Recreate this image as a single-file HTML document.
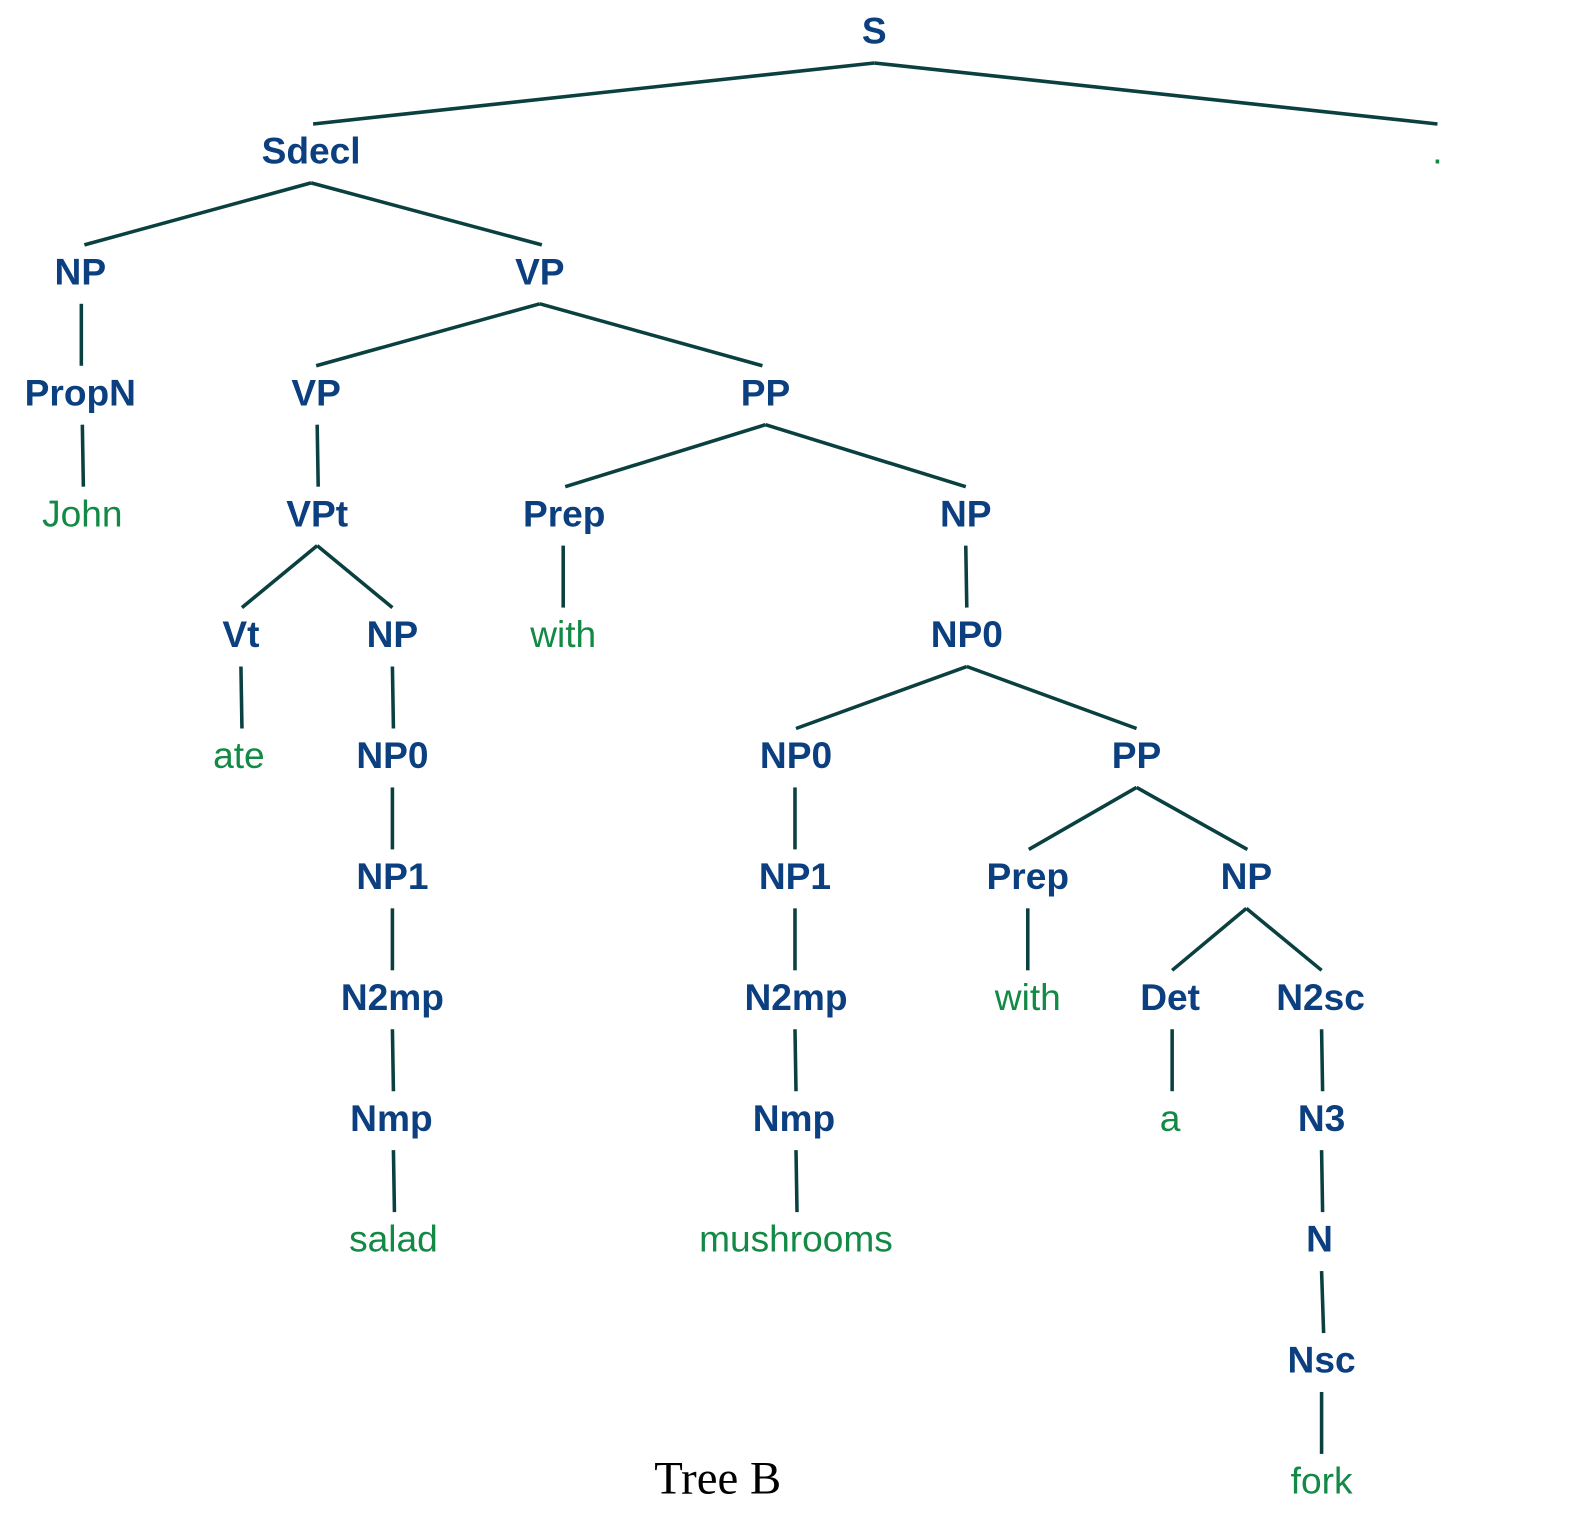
<!DOCTYPE html>
<html><head><meta charset="utf-8"><style>
html,body{margin:0;padding:0;background:#fff;}
svg{display:block;}
.n{font-family:"Liberation Sans",Arial,sans-serif;font-weight:bold;font-size:36.5px;fill:#0b3f7f;text-anchor:middle;}
.w{font-family:"Liberation Sans",Arial,sans-serif;font-size:36.5px;fill:#128a45;text-anchor:middle;}
line{stroke:#0a4040;stroke-width:3.5;}
</style></head><body>
<svg width="1592" height="1521" viewBox="0 0 1566 1497" preserveAspectRatio="none">
<g>
<line x1="860" y1="62" x2="308" y2="122"/>
<line x1="860" y1="62" x2="1414" y2="122"/>
<line x1="306" y1="180" x2="83" y2="241"/>
<line x1="306" y1="180" x2="533" y2="241"/>
<line x1="80" y1="299" x2="80" y2="360"/>
<line x1="531" y1="299" x2="311" y2="360"/>
<line x1="531" y1="299" x2="750" y2="360"/>
<line x1="81" y1="418" x2="82" y2="479"/>
<line x1="312" y1="418" x2="313" y2="479"/>
<line x1="753" y1="418" x2="556" y2="479"/>
<line x1="753" y1="418" x2="950" y2="479"/>
<line x1="312" y1="537" x2="238" y2="598"/>
<line x1="312" y1="537" x2="386" y2="598"/>
<line x1="554" y1="537" x2="554" y2="598"/>
<line x1="950" y1="537" x2="951" y2="598"/>
<line x1="237" y1="656" x2="238" y2="717"/>
<line x1="386" y1="656" x2="387" y2="717"/>
<line x1="951" y1="656" x2="783" y2="717"/>
<line x1="951" y1="656" x2="1118" y2="717"/>
<line x1="386" y1="775" x2="386" y2="836"/>
<line x1="782" y1="775" x2="782" y2="836"/>
<line x1="1118" y1="775" x2="1012" y2="836"/>
<line x1="1118" y1="775" x2="1227" y2="836"/>
<line x1="386" y1="894" x2="386" y2="955"/>
<line x1="782" y1="894" x2="782" y2="955"/>
<line x1="1011" y1="894" x2="1011" y2="955"/>
<line x1="1226" y1="894" x2="1153" y2="955"/>
<line x1="1226" y1="894" x2="1300" y2="955"/>
<line x1="386" y1="1013" x2="387" y2="1074"/>
<line x1="782" y1="1013" x2="783" y2="1074"/>
<line x1="1153" y1="1013" x2="1153" y2="1074"/>
<line x1="1300" y1="1013" x2="1301" y2="1074"/>
<line x1="387" y1="1132" x2="388" y2="1193"/>
<line x1="783" y1="1132" x2="784" y2="1193"/>
<line x1="1300" y1="1132" x2="1301" y2="1193"/>
<line x1="1300" y1="1251" x2="1302" y2="1312"/>
<line x1="1300" y1="1370" x2="1300" y2="1431"/>
</g>
<g>
<text class="n" x="860" y="43">S</text>
<text class="n" x="306" y="161">Sdecl</text>
<text class="w" x="1414" y="161">.</text>
<text class="n" x="79" y="280">NP</text>
<text class="n" x="531" y="280">VP</text>
<text class="n" x="79" y="399">PropN</text>
<text class="n" x="311" y="399">VP</text>
<text class="n" x="753" y="399">PP</text>
<text class="w" x="81" y="518">John</text>
<text class="n" x="312" y="518">VPt</text>
<text class="n" x="555" y="518">Prep</text>
<text class="n" x="950" y="518">NP</text>
<text class="n" x="237" y="637">Vt</text>
<text class="n" x="386" y="637">NP</text>
<text class="w" x="554" y="637">with</text>
<text class="n" x="951" y="637">NP0</text>
<text class="w" x="235" y="756">ate</text>
<text class="n" x="386" y="756">NP0</text>
<text class="n" x="783" y="756">NP0</text>
<text class="n" x="1118" y="756">PP</text>
<text class="n" x="386" y="875">NP1</text>
<text class="n" x="782" y="875">NP1</text>
<text class="n" x="1011" y="875">Prep</text>
<text class="n" x="1226" y="875">NP</text>
<text class="n" x="386" y="994">N2mp</text>
<text class="n" x="783" y="994">N2mp</text>
<text class="w" x="1011" y="994">with</text>
<text class="n" x="1151" y="994">Det</text>
<text class="n" x="1299" y="994">N2sc</text>
<text class="n" x="385" y="1113">Nmp</text>
<text class="n" x="781" y="1113">Nmp</text>
<text class="w" x="1151" y="1113">a</text>
<text class="n" x="1300" y="1113">N3</text>
<text class="w" x="387" y="1232">salad</text>
<text class="w" x="783" y="1232">mushrooms</text>
<text class="n" x="1298" y="1232">N</text>
<text class="n" x="1300" y="1351">Nsc</text>
<text class="w" x="1300" y="1470">fork</text>
<text x="706" y="1470" style="font-family:'Liberation Serif',serif;font-size:46px;fill:#000;text-anchor:middle;">Tree B</text>
</g>
</svg>
</body></html>
